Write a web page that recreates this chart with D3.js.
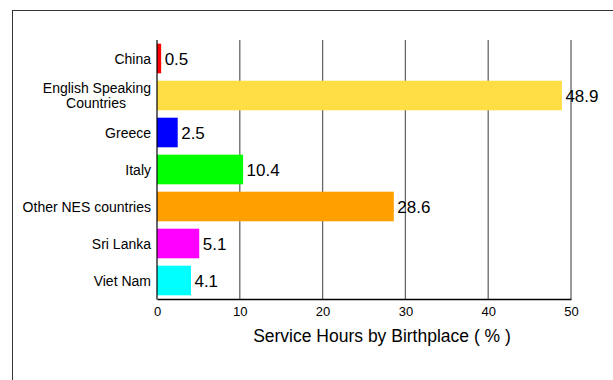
<!DOCTYPE html>
<html>
<head>
<meta charset="utf-8">
<script src="https://cdn.jsdelivr.net/npm/d3@7"></script>
<style>
  html, body { margin: 0; padding: 0; background: #fff; }
  svg { display: block; font-family: "Liberation Sans", Arial, sans-serif; }
</style>
</head>
<body>
<svg id="chart" width="613" height="380"></svg>
<script>
const categories = ["China", "English Speaking Countries", "Greece", "Italy", "Other NES countries", "Sri Lanka", "Viet Nam"];
const categoryLines = [["China"], ["English Speaking", "Countries"], ["Greece"], ["Italy"], ["Other NES countries"], ["Sri Lanka"], ["Viet Nam"]];
const values = [0.5, 48.9, 2.5, 10.4, 28.6, 5.1, 4.1];
const valueLabels = ["0.5", "48.9", "2.5", "10.4", "28.6", "5.1", "4.1"];
const colors = ["#ff0000", "#ffdd44", "#0000ff", "#00ff00", "#ffa000", "#ff00ff", "#00ffff"];
const xTicks = [0, 10, 20, 30, 40, 50];
const xTitle = "Service Hours by Birthplace ( % )";

(function () {
const svg = d3.select("#chart");
const pLeft = 157, pRight = 571, pTop = 40, pBottom = 299;

// outer frame
svg.append("rect")
  .attr("x", 12.5).attr("y", 10.5)
  .attr("width", 700).attr("height", 500)
  .attr("fill", "none").attr("stroke", "#333").attr("stroke-width", 1);

const x = d3.scaleLinear().domain([0, 50]).range([pLeft, pRight]);
const y = d3.scaleBand().domain(categories).range([pTop, pBottom])
  .paddingInner(0.2).paddingOuter(0.1);

// gridlines
svg.append("g").selectAll("line")
  .data(xTicks.filter(t => t > 0))
  .join("line")
  .attr("x1", d => x(d)).attr("x2", d => x(d))
  .attr("y1", pTop).attr("y2", pBottom)
  .attr("stroke", "#666").attr("stroke-width", 1.3);

// bars
svg.append("g").selectAll("rect")
  .data(categories)
  .join("rect")
  .attr("x", x(0))
  .attr("y", d => y(d))
  .attr("width", (d, i) => x(values[i]) - x(0))
  .attr("height", y.bandwidth())
  .attr("fill", (d, i) => colors[i]);

// value labels
svg.append("g").selectAll("text")
  .data(categories)
  .join("text")
  .attr("x", (d, i) => x(values[i]) + 3.5)
  .attr("y", d => y(d) + y.bandwidth() / 2)
  .attr("dy", "0.36em")
  .attr("font-size", 17)
  .attr("fill", "#000")
  .text((d, i) => valueLabels[i]);

// y axis line
svg.append("line")
  .attr("x1", pLeft).attr("x2", pLeft)
  .attr("y1", pTop).attr("y2", pBottom + 0.5)
  .attr("stroke", "#000").attr("stroke-width", 1.2);

// x axis
const xAxis = d3.axisBottom(x).tickValues(xTicks).tickSize(0).tickPadding(8).tickFormat(d3.format("d"));
const gx = svg.append("g").attr("transform", `translate(0,${pBottom})`).call(xAxis);
gx.select(".domain").attr("stroke", "#000").attr("stroke-width", 1.3);
gx.selectAll("text").attr("font-size", 13).attr("fill", "#000")
  .attr("font-family", "'Liberation Sans', Arial, sans-serif");

// category labels (each line is its own text element)
const yl = svg.append("g");
categories.forEach((c, i) => {
  const lines = categoryLines[i];
  const cy = y(c) + y.bandwidth() / 2;
  const lh = 15;
  lines.forEach((ln, j) => {
    yl.append("text")
      .attr("x", j > 0 ? pLeft - 6 - 55 : pLeft - 6)
      .attr("y", cy + (j - (lines.length - 1) / 2) * lh)
      .attr("dy", "0.36em")
      .attr("text-anchor", j > 0 ? "middle" : "end")
      .attr("font-size", 14)
      .attr("fill", "#000")
      .text(ln);
  });
});

// axis title
svg.append("text")
  .attr("x", 382)
  .attr("y", 336)
  .attr("dy", "0.36em")
  .attr("text-anchor", "middle")
  .attr("font-size", 17.5)
  .attr("fill", "#000")
  .text(xTitle);
})();
</script>
</body>
</html>
